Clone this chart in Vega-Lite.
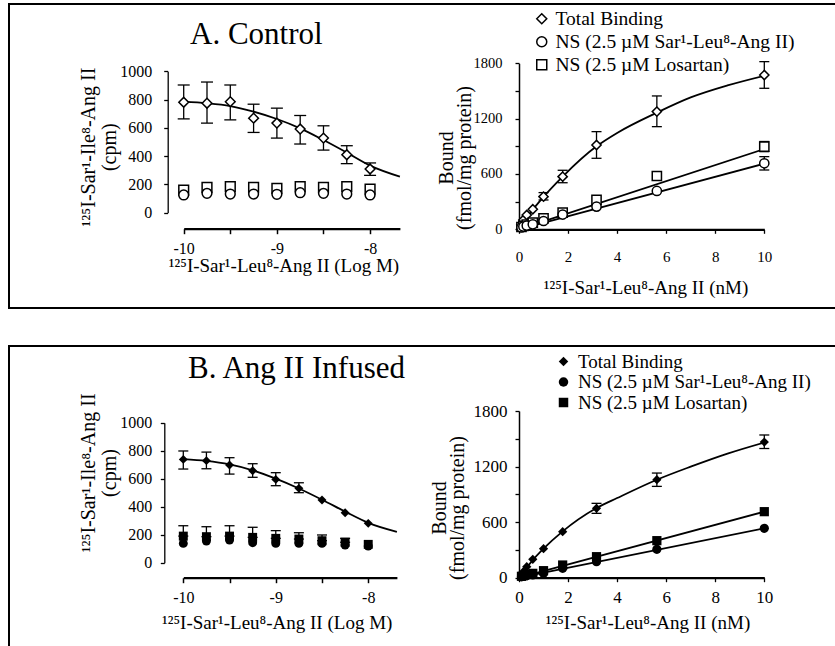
{
  "$schema": "https://vega.github.io/schema/vega-lite/v6.json",
  "padding": {"left": 8, "top": 3, "right": 0, "bottom": 0},
  "background": "white",
  "config": {
    "font": "Liberation Serif",
    "view": {"stroke": null},
    "axis": {"labelColor": "black", "titleColor": "black", "domainColor": "black", "tickColor": "black", "grid": false, "titleFontWeight": "normal", "labelFlush": false, "labelOverlap": false, "labelFont": "Liberation Serif", "titleFont": "Liberation Serif"},
    "legend": {"labelFont": "Liberation Serif", "labelColor": "black"}
  },
  "datasets": {
    "aL": [
      {"x": -10, "s": "T", "v": 781, "lo": 663, "hi": 903},
      {"x": -9.75, "s": "T", "v": 774, "lo": 633, "hi": 924},
      {"x": -9.5, "s": "T", "v": 785, "lo": 656, "hi": 903},
      {"x": -9.25, "s": "T", "v": 668, "lo": 567, "hi": 767},
      {"x": -9, "s": "T", "v": 633, "lo": 527, "hi": 739},
      {"x": -8.75, "s": "T", "v": 591, "lo": 485, "hi": 687},
      {"x": -8.5, "s": "T", "v": 527, "lo": 442, "hi": 614},
      {"x": -8.25, "s": "T", "v": 409, "lo": 346, "hi": 473},
      {"x": -8, "s": "T", "v": 308, "lo": 263, "hi": 351},
      {"x": -10, "s": "L", "v": 159}, {"x": -9.75, "s": "L", "v": 178}, {"x": -9.5, "s": "L", "v": 183},
      {"x": -9.25, "s": "L", "v": 178}, {"x": -9, "s": "L", "v": 171}, {"x": -8.75, "s": "L", "v": 183},
      {"x": -8.5, "s": "L", "v": 178}, {"x": -8.25, "s": "L", "v": 183}, {"x": -8, "s": "L", "v": 166},
      {"x": -10, "s": "S", "v": 124}, {"x": -9.75, "s": "S", "v": 136}, {"x": -9.5, "s": "S", "v": 131},
      {"x": -9.25, "s": "S", "v": 131}, {"x": -9, "s": "S", "v": 129}, {"x": -8.75, "s": "S", "v": 140},
      {"x": -8.5, "s": "S", "v": 136}, {"x": -8.25, "s": "S", "v": 131}, {"x": -8, "s": "S", "v": 124}
    ],
    "aLf": [
      {"x": -10, "s": "T", "v": 785}, {"x": -9.75, "s": "T", "v": 774}, {"x": -9.5, "s": "T", "v": 754},
      {"x": -9.25, "s": "T", "v": 714}, {"x": -9, "s": "T", "v": 662}, {"x": -8.75, "s": "T", "v": 596},
      {"x": -8.5, "s": "T", "v": 513}, {"x": -8.25, "s": "T", "v": 424}, {"x": -8, "s": "T", "v": 332},
      {"x": -7.68, "s": "T", "v": 254}
    ],
    "aR": [
      {"x": 0.1, "s": "T", "v": 50}, {"x": 0.178, "s": "T", "v": 101}, {"x": 0.316, "s": "T", "v": 155},
      {"x": 0.562, "s": "T", "v": 217}, {"x": 1, "s": "T", "v": 354, "lo": 318, "hi": 398},
      {"x": 1.78, "s": "T", "v": 571, "lo": 505, "hi": 640}, {"x": 3.16, "s": "T", "v": 914, "lo": 770, "hi": 1059},
      {"x": 5.62, "s": "T", "v": 1276, "lo": 1113, "hi": 1446}, {"x": 10, "s": "T", "v": 1673, "lo": 1529, "hi": 1818},
      {"x": 0.1, "s": "L", "v": 25}, {"x": 0.178, "s": "L", "v": 38}, {"x": 0.316, "s": "L", "v": 52},
      {"x": 0.562, "s": "L", "v": 72}, {"x": 1, "s": "L", "v": 119}, {"x": 1.78, "s": "L", "v": 181},
      {"x": 3.16, "s": "L", "v": 318}, {"x": 5.62, "s": "L", "v": 578}, {"x": 10, "s": "L", "v": 896, "lo": 842, "hi": 952},
      {"x": 0.1, "s": "S", "v": 20}, {"x": 0.178, "s": "S", "v": 30}, {"x": 0.316, "s": "S", "v": 40},
      {"x": 0.562, "s": "S", "v": 54}, {"x": 1, "s": "S", "v": 90}, {"x": 1.78, "s": "S", "v": 160},
      {"x": 3.16, "s": "S", "v": 246}, {"x": 5.62, "s": "S", "v": 416}, {"x": 10, "s": "S", "v": 716, "lo": 643, "hi": 788}
    ],
    "aRf": [
      {"x": 0, "s": "T", "v": 0}, {"x": 0.1, "s": "T", "v": 40}, {"x": 0.316, "s": "T", "v": 120},
      {"x": 0.562, "s": "T", "v": 212}, {"x": 1, "s": "T", "v": 352}, {"x": 1.78, "s": "T", "v": 572},
      {"x": 3.16, "s": "T", "v": 900}, {"x": 4, "s": "T", "v": 1045}, {"x": 5.62, "s": "T", "v": 1265},
      {"x": 7, "s": "T", "v": 1430}, {"x": 8.5, "s": "T", "v": 1560}, {"x": 10, "s": "T", "v": 1665},
      {"x": 0, "s": "L", "v": 0}, {"x": 10, "s": "L", "v": 870},
      {"x": 0, "s": "S", "v": 0}, {"x": 10, "s": "S", "v": 712}
    ],
    "bL": [
      {"x": -10, "s": "T", "v": 738, "lo": 669, "hi": 798},
      {"x": -9.75, "s": "T", "v": 729, "lo": 671, "hi": 790},
      {"x": -9.5, "s": "T", "v": 698, "lo": 633, "hi": 750},
      {"x": -9.25, "s": "T", "v": 657, "lo": 610, "hi": 707},
      {"x": -9, "s": "T", "v": 595, "lo": 550, "hi": 643},
      {"x": -8.75, "s": "T", "v": 531, "lo": 500, "hi": 571},
      {"x": -8.5, "s": "T", "v": 448},
      {"x": -8.25, "s": "T", "v": 357},
      {"x": -8, "s": "T", "v": 281},
      {"x": -10, "s": "L", "v": 190, "lo": 190, "hi": 264}, {"x": -9.75, "s": "L", "v": 186, "lo": 186, "hi": 257},
      {"x": -9.5, "s": "L", "v": 190, "lo": 190, "hi": 264}, {"x": -9.25, "s": "L", "v": 181, "lo": 181, "hi": 253},
      {"x": -9, "s": "L", "v": 174, "lo": 174, "hi": 229}, {"x": -8.75, "s": "L", "v": 169, "lo": 169, "hi": 214},
      {"x": -8.5, "s": "L", "v": 157, "lo": 157, "hi": 198}, {"x": -8.25, "s": "L", "v": 146, "lo": 146, "hi": 174},
      {"x": -8, "s": "L", "v": 131},
      {"x": -10, "s": "S", "v": 138}, {"x": -9.75, "s": "S", "v": 155}, {"x": -9.5, "s": "S", "v": 162},
      {"x": -9.25, "s": "S", "v": 143}, {"x": -9, "s": "S", "v": 138}, {"x": -8.75, "s": "S", "v": 138},
      {"x": -8.5, "s": "S", "v": 138}, {"x": -8.25, "s": "S", "v": 126}, {"x": -8, "s": "S", "v": 119}
    ],
    "bLf": [
      {"x": -10, "s": "T", "v": 740}, {"x": -9.75, "s": "T", "v": 727}, {"x": -9.5, "s": "T", "v": 702},
      {"x": -9.25, "s": "T", "v": 660}, {"x": -9, "s": "T", "v": 600}, {"x": -8.75, "s": "T", "v": 530},
      {"x": -8.5, "s": "T", "v": 450}, {"x": -8.25, "s": "T", "v": 365}, {"x": -8, "s": "T", "v": 285},
      {"x": -7.69, "s": "T", "v": 221}
    ],
    "bR": [
      {"x": 0.1, "s": "T", "v": 29}, {"x": 0.178, "s": "T", "v": 65}, {"x": 0.316, "s": "T", "v": 119},
      {"x": 0.562, "s": "T", "v": 198}, {"x": 1, "s": "T", "v": 313}, {"x": 1.78, "s": "T", "v": 497},
      {"x": 3.16, "s": "T", "v": 749, "lo": 695, "hi": 803}, {"x": 5.62, "s": "T", "v": 1058, "lo": 986, "hi": 1130},
      {"x": 10, "s": "T", "v": 1465, "lo": 1395, "hi": 1541},
      {"x": 0.1, "s": "L", "v": 15}, {"x": 0.178, "s": "L", "v": 22}, {"x": 0.316, "s": "L", "v": 35},
      {"x": 0.562, "s": "L", "v": 47}, {"x": 1, "s": "L", "v": 76}, {"x": 1.78, "s": "L", "v": 137},
      {"x": 3.16, "s": "L", "v": 227}, {"x": 5.62, "s": "L", "v": 400}, {"x": 10, "s": "L", "v": 713},
      {"x": 0.1, "s": "S", "v": 10}, {"x": 0.178, "s": "S", "v": 15}, {"x": 0.316, "s": "S", "v": 22},
      {"x": 0.562, "s": "S", "v": 29}, {"x": 1, "s": "S", "v": 47}, {"x": 1.78, "s": "S", "v": 101},
      {"x": 3.16, "s": "S", "v": 173}, {"x": 5.62, "s": "S", "v": 306}, {"x": 10, "s": "S", "v": 533}
    ],
    "bRf": [
      {"x": 0, "s": "T", "v": 0}, {"x": 0.1, "s": "T", "v": 35}, {"x": 0.316, "s": "T", "v": 110},
      {"x": 0.562, "s": "T", "v": 190}, {"x": 1, "s": "T", "v": 313}, {"x": 1.78, "s": "T", "v": 500},
      {"x": 3.16, "s": "T", "v": 752}, {"x": 4, "s": "T", "v": 860}, {"x": 5.62, "s": "T", "v": 1058},
      {"x": 7, "s": "T", "v": 1199}, {"x": 8.5, "s": "T", "v": 1340}, {"x": 10, "s": "T", "v": 1460},
      {"x": 0, "s": "L", "v": 0}, {"x": 10, "s": "L", "v": 713},
      {"x": 0, "s": "S", "v": 0}, {"x": 10, "s": "S", "v": 533}
    ]
  },
  "vconcat": [
    {
      "width": 835,
      "height": 304,
      "view": {"stroke": "black", "strokeWidth": 2},
      "title": {"text": "A.  Control", "fontSize": 31, "fontWeight": "normal", "font": "Liberation Serif", "anchor": "start", "frame": "group", "dx": 181, "dy": 71, "offset": 0, "baseline": "alphabetic", "color": "black"},
      "layer": [
        {
          "encoding": {
            "x": {"field": "x", "type": "quantitative", "scale": {"domain": [-10, -7.68], "range": [174.7, 390.9], "nice": false, "zero": false},
                  "axis": {"orient": "bottom", "offset": -79.3, "values": [-10, -9.5, -9, -8.5, -8], "labelExpr": "datum.value % 1 == 0 ? '' + datum.value : ''", "title": "¹²⁵I-Sar¹-Leu⁸-Ang II (Log M)", "titleFontSize": 19, "titleBaseline": "alphabetic", "titleY": 43, "titleX": 274.5, "labelFontSize": 16, "labelPadding": 6.5, "tickSize": 5, "tickWidth": 1.5, "domainWidth": 2.3}},
            "y": {"field": "v", "type": "quantitative", "scale": {"domain": [0, 1000], "range": [208.5, 67.3], "nice": false, "zero": false},
                  "axis": {"orient": "left", "offset": -158.7, "values": [0, 200, 400, 600, 800, 1000], "format": "d", "title": ["¹²⁵I-Sar¹-Ile⁸-Ang II", "(cpm)"], "titleFontSize": 20, "titleAngle": -90, "titleBaseline": "alphabetic", "titleAlign": "center", "titleX": -73.7, "titleY": 142.7, "titleLineHeight": 21, "labelFontSize": 16, "labelPadding": 12, "tickSize": 4, "tickWidth": 1.3, "domainWidth": 1.3}}
          },
          "layer": [
            {"data": {"name": "aLf"}, "mark": {"type": "line", "color": "black", "strokeWidth": 1.8, "interpolate": "monotone"},
             "encoding": {"detail": {"field": "s"}}},
            {"data": {"name": "aL"}, "transform": [{"filter": "isValid(datum.hi)"}], "mark": {"type": "rule", "color": "black", "strokeWidth": 1.3},
             "encoding": {"y": {"field": "lo", "type": "quantitative", "scale": {"domain": [0, 1000], "range": [208.5, 67.3], "nice": false, "zero": false},
                  "axis": {"orient": "left", "offset": -158.7, "values": [0, 200, 400, 600, 800, 1000], "format": "d", "title": ["¹²⁵I-Sar¹-Ile⁸-Ang II", "(cpm)"], "titleFontSize": 20, "titleAngle": -90, "titleBaseline": "alphabetic", "titleAlign": "center", "titleX": -73.7, "titleY": 142.7, "titleLineHeight": 21, "labelFontSize": 16, "labelPadding": 12, "tickSize": 4, "tickWidth": 1.3, "domainWidth": 1.3}},
                          "y2": {"field": "hi"}}},
            {"data": {"name": "aL"}, "transform": [{"filter": "isValid(datum.hi)"}], "mark": {"type": "point", "shape": "stroke", "size": 144, "color": "black", "strokeWidth": 1.3, "opacity": 1},
             "encoding": {"y": {"field": "hi", "type": "quantitative", "scale": {"domain": [0, 1000], "range": [208.5, 67.3], "nice": false, "zero": false},
                  "axis": {"orient": "left", "offset": -158.7, "values": [0, 200, 400, 600, 800, 1000], "format": "d", "title": ["¹²⁵I-Sar¹-Ile⁸-Ang II", "(cpm)"], "titleFontSize": 20, "titleAngle": -90, "titleBaseline": "alphabetic", "titleAlign": "center", "titleX": -73.7, "titleY": 142.7, "titleLineHeight": 21, "labelFontSize": 16, "labelPadding": 12, "tickSize": 4, "tickWidth": 1.3, "domainWidth": 1.3}}}},
            {"data": {"name": "aL"}, "transform": [{"filter": "isValid(datum.lo)"}], "mark": {"type": "point", "shape": "stroke", "size": 144, "color": "black", "strokeWidth": 1.3, "opacity": 1},
             "encoding": {"y": {"field": "lo", "type": "quantitative", "scale": {"domain": [0, 1000], "range": [208.5, 67.3], "nice": false, "zero": false},
                  "axis": {"orient": "left", "offset": -158.7, "values": [0, 200, 400, 600, 800, 1000], "format": "d", "title": ["¹²⁵I-Sar¹-Ile⁸-Ang II", "(cpm)"], "titleFontSize": 20, "titleAngle": -90, "titleBaseline": "alphabetic", "titleAlign": "center", "titleX": -73.7, "titleY": 142.7, "titleLineHeight": 21, "labelFontSize": 16, "labelPadding": 12, "tickSize": 4, "tickWidth": 1.3, "domainWidth": 1.3}}}},
            {"data": {"name": "aL"}, "mark": {"type": "point", "filled": false, "color": "black", "fill": "white", "strokeWidth": 1.5, "opacity": 1, "size": 95},
             "encoding": {"shape": {"field": "s", "type": "nominal", "scale": {"domain": ["T", "S", "L"], "range": ["diamond", "circle", "square"]},
                                    "legend": {"orient": "none", "legendX": 523, "legendY": 5, "title": null, "labelFontSize": 19.5, "symbolSize": 100, "symbolStrokeWidth": 1.5, "rowPadding": 2, "padding": 0, "labelOffset": 4, "labelLimit": 400,
                                               "labelExpr": "datum.label == 'T' ? 'Total Binding' : datum.label == 'S' ? 'NS (2.5 µM Sar¹-Leu⁸-Ang II)' : 'NS (2.5 µM Losartan)'"}}}}
          ]
        },
        {
          "encoding": {
            "x": {"field": "x", "type": "quantitative", "scale": {"domain": [0, 10], "range": [510, 755.3], "nice": false, "zero": false},
                  "axis": {"orient": "bottom", "offset": -78.7, "values": [0, 2, 4, 6, 8, 10], "title": "¹²⁵I-Sar¹-Leu⁸-Ang II (nM)", "titleFontSize": 19, "titleBaseline": "alphabetic", "titleY": 63.7, "titleX": 636.5, "labelFontSize": 15, "labelPadding": 16.5, "tickSize": 4, "tickWidth": 1.3, "domainWidth": 2.3}},
            "y": {"field": "v", "type": "quantitative", "scale": {"domain": [0, 1800], "range": [225.3, 59.3], "nice": false, "zero": false},
                  "axis": {"orient": "left", "offset": -510, "values": [0, 300, 600, 900, 1200, 1500, 1800], "format": "d", "labelExpr": "datum.value % 600 == 0 ? datum.label : ''", "title": ["Bound", "(fmol/mg protein)"], "titleFontSize": 20, "titleAngle": -90, "titleBaseline": "alphabetic", "titleAlign": "center", "titleX": -67, "titleY": 153.5, "titleLineHeight": 18, "labelFontSize": 14.5, "labelPadding": 13, "tickSize": 4, "tickWidth": 1.3, "domainWidth": 1.5}}
          },
          "layer": [
            {"data": {"name": "aRf"}, "mark": {"type": "line", "color": "black", "strokeWidth": 1.8, "interpolate": "monotone"},
             "encoding": {"detail": {"field": "s"}}},
            {"data": {"name": "aR"}, "transform": [{"filter": "isValid(datum.hi)"}], "mark": {"type": "rule", "color": "black", "strokeWidth": 1.3},
             "encoding": {"y": {"field": "lo", "type": "quantitative", "scale": {"domain": [0, 1800], "range": [225.3, 59.3], "nice": false, "zero": false},
                  "axis": {"orient": "left", "offset": -510, "values": [0, 300, 600, 900, 1200, 1500, 1800], "format": "d", "labelExpr": "datum.value % 600 == 0 ? datum.label : ''", "title": ["Bound", "(fmol/mg protein)"], "titleFontSize": 20, "titleAngle": -90, "titleBaseline": "alphabetic", "titleAlign": "center", "titleX": -67, "titleY": 153.5, "titleLineHeight": 18, "labelFontSize": 14.5, "labelPadding": 13, "tickSize": 4, "tickWidth": 1.3, "domainWidth": 1.5}},
                          "y2": {"field": "hi"}}},
            {"data": {"name": "aR"}, "transform": [{"filter": "isValid(datum.hi)"}], "mark": {"type": "point", "shape": "stroke", "size": 100, "color": "black", "strokeWidth": 1.3, "opacity": 1},
             "encoding": {"y": {"field": "hi", "type": "quantitative", "scale": {"domain": [0, 1800], "range": [225.3, 59.3], "nice": false, "zero": false},
                  "axis": {"orient": "left", "offset": -510, "values": [0, 300, 600, 900, 1200, 1500, 1800], "format": "d", "labelExpr": "datum.value % 600 == 0 ? datum.label : ''", "title": ["Bound", "(fmol/mg protein)"], "titleFontSize": 20, "titleAngle": -90, "titleBaseline": "alphabetic", "titleAlign": "center", "titleX": -67, "titleY": 153.5, "titleLineHeight": 18, "labelFontSize": 14.5, "labelPadding": 13, "tickSize": 4, "tickWidth": 1.3, "domainWidth": 1.5}}}},
            {"data": {"name": "aR"}, "transform": [{"filter": "isValid(datum.lo)"}], "mark": {"type": "point", "shape": "stroke", "size": 100, "color": "black", "strokeWidth": 1.3, "opacity": 1},
             "encoding": {"y": {"field": "lo", "type": "quantitative", "scale": {"domain": [0, 1800], "range": [225.3, 59.3], "nice": false, "zero": false},
                  "axis": {"orient": "left", "offset": -510, "values": [0, 300, 600, 900, 1200, 1500, 1800], "format": "d", "labelExpr": "datum.value % 600 == 0 ? datum.label : ''", "title": ["Bound", "(fmol/mg protein)"], "titleFontSize": 20, "titleAngle": -90, "titleBaseline": "alphabetic", "titleAlign": "center", "titleX": -67, "titleY": 153.5, "titleLineHeight": 18, "labelFontSize": 14.5, "labelPadding": 13, "tickSize": 4, "tickWidth": 1.3, "domainWidth": 1.5}}}},
            {"data": {"name": "aR"}, "mark": {"type": "point", "filled": false, "color": "black", "fill": "white", "strokeWidth": 1.5, "opacity": 1, "size": 85},
             "encoding": {"shape": {"field": "s", "type": "nominal", "scale": {"domain": ["T", "S", "L"], "range": ["diamond", "circle", "square"]},
                                    "legend": {"orient": "none", "legendX": 523, "legendY": 5, "title": null, "labelFontSize": 19.5, "symbolSize": 100, "symbolStrokeWidth": 1.5, "rowPadding": 2, "padding": 0, "labelOffset": 4, "labelLimit": 400,
                                               "labelExpr": "datum.label == 'T' ? 'Total Binding' : datum.label == 'S' ? 'NS (2.5 µM Sar¹-Leu⁸-Ang II)' : 'NS (2.5 µM Losartan)'"}}}}
          ]
        }
      ],
      "resolve": {"scale": {"x": "independent", "y": "independent"}, "axis": {"x": "independent", "y": "independent"}}
    },
    {
      "width": 835,
      "height": 310,
      "view": {"stroke": "black", "strokeWidth": 2},
      "title": {"text": "B.  Ang II Infused", "fontSize": 31, "fontWeight": "normal", "font": "Liberation Serif", "anchor": "start", "frame": "group", "dx": 179, "dy": 63, "offset": 0, "baseline": "alphabetic", "color": "black"},
      "layer": [
        {
          "encoding": {
            "x": {"field": "x", "type": "quantitative", "scale": {"domain": [-10, -7.69], "range": [174.3, 387.9], "nice": false, "zero": false},
                  "axis": {"orient": "bottom", "offset": -78.3, "values": [-10, -9.5, -9, -8.5, -8], "labelExpr": "datum.value % 1 == 0 ? '' + datum.value : ''", "title": "¹²⁵I-Sar¹-Leu⁸-Ang II (Log M)", "titleFontSize": 19, "titleBaseline": "alphabetic", "titleY": 50.6, "titleX": 267.7, "labelFontSize": 16, "labelPadding": 6.9, "tickSize": 5, "tickWidth": 1.5, "domainWidth": 2.3}},
            "y": {"field": "v", "type": "quantitative", "scale": {"domain": [0, 1000], "range": [216.7, 76.7], "nice": false, "zero": false},
                  "axis": {"orient": "left", "offset": -155.3, "values": [0, 200, 400, 600, 800, 1000], "format": "d", "title": ["¹²⁵I-Sar¹-Ile⁸-Ang II", "(cpm)"], "titleFontSize": 20, "titleAngle": -90, "titleBaseline": "alphabetic", "titleAlign": "center", "titleX": -70.3, "titleY": 126.5, "titleLineHeight": 21, "labelFontSize": 16, "labelPadding": 8.6, "tickSize": 4, "tickWidth": 1.3, "domainWidth": 1.3}}
          },
          "layer": [
            {"data": {"name": "bLf"}, "mark": {"type": "line", "color": "black", "strokeWidth": 1.8, "interpolate": "monotone"},
             "encoding": {"detail": {"field": "s"}}},
            {"data": {"name": "bL"}, "transform": [{"filter": "isValid(datum.hi)"}], "mark": {"type": "rule", "color": "black", "strokeWidth": 1.3},
             "encoding": {"y": {"field": "lo", "type": "quantitative", "scale": {"domain": [0, 1000], "range": [216.7, 76.7], "nice": false, "zero": false},
                  "axis": {"orient": "left", "offset": -155.3, "values": [0, 200, 400, 600, 800, 1000], "format": "d", "title": ["¹²⁵I-Sar¹-Ile⁸-Ang II", "(cpm)"], "titleFontSize": 20, "titleAngle": -90, "titleBaseline": "alphabetic", "titleAlign": "center", "titleX": -70.3, "titleY": 126.5, "titleLineHeight": 21, "labelFontSize": 16, "labelPadding": 8.6, "tickSize": 4, "tickWidth": 1.3, "domainWidth": 1.3}},
                          "y2": {"field": "hi"}}},
            {"data": {"name": "bL"}, "transform": [{"filter": "isValid(datum.hi)"}], "mark": {"type": "point", "shape": "stroke", "size": 100, "color": "black", "strokeWidth": 1.3, "opacity": 1},
             "encoding": {"y": {"field": "hi", "type": "quantitative", "scale": {"domain": [0, 1000], "range": [216.7, 76.7], "nice": false, "zero": false},
                  "axis": {"orient": "left", "offset": -155.3, "values": [0, 200, 400, 600, 800, 1000], "format": "d", "title": ["¹²⁵I-Sar¹-Ile⁸-Ang II", "(cpm)"], "titleFontSize": 20, "titleAngle": -90, "titleBaseline": "alphabetic", "titleAlign": "center", "titleX": -70.3, "titleY": 126.5, "titleLineHeight": 21, "labelFontSize": 16, "labelPadding": 8.6, "tickSize": 4, "tickWidth": 1.3, "domainWidth": 1.3}}}},
            {"data": {"name": "bL"}, "transform": [{"filter": "isValid(datum.lo)"}], "mark": {"type": "point", "shape": "stroke", "size": 100, "color": "black", "strokeWidth": 1.3, "opacity": 1},
             "encoding": {"y": {"field": "lo", "type": "quantitative", "scale": {"domain": [0, 1000], "range": [216.7, 76.7], "nice": false, "zero": false},
                  "axis": {"orient": "left", "offset": -155.3, "values": [0, 200, 400, 600, 800, 1000], "format": "d", "title": ["¹²⁵I-Sar¹-Ile⁸-Ang II", "(cpm)"], "titleFontSize": 20, "titleAngle": -90, "titleBaseline": "alphabetic", "titleAlign": "center", "titleX": -70.3, "titleY": 126.5, "titleLineHeight": 21, "labelFontSize": 16, "labelPadding": 8.6, "tickSize": 4, "tickWidth": 1.3, "domainWidth": 1.3}}}},
            {"data": {"name": "bL"}, "mark": {"type": "point", "filled": true, "color": "black", "strokeWidth": 1, "opacity": 1, "size": 80},
             "encoding": {"shape": {"field": "s", "type": "nominal", "scale": {"domain": ["T", "S", "L"], "range": ["diamond", "circle", "square"]},
                                    "legend": {"orient": "none", "legendX": 545, "legendY": 6, "title": null, "labelFontSize": 19, "symbolSize": 90, "symbolStrokeColor": "black", "symbolFillColor": "black", "symbolStrokeWidth": 1, "rowPadding": 0.5, "padding": 0, "labelOffset": 5, "labelLimit": 400,
                                               "labelExpr": "datum.label == 'T' ? 'Total Binding' : datum.label == 'S' ? 'NS (2.5 µM Sar¹-Leu⁸-Ang II)' : 'NS (2.5 µM Losartan)'"}}}}
          ]
        },
        {
          "encoding": {
            "x": {"field": "x", "type": "quantitative", "scale": {"domain": [0, 10], "range": [510, 755.3], "nice": false, "zero": false},
                  "axis": {"orient": "bottom", "offset": -78.3, "values": [0, 2, 4, 6, 8, 10], "title": "¹²⁵I-Sar¹-Leu⁸-Ang II (nM)", "titleFontSize": 19, "titleBaseline": "alphabetic", "titleY": 50.6, "titleX": 638.5, "labelFontSize": 17, "labelPadding": 8.2, "tickSize": 4, "tickWidth": 1.3, "domainWidth": 2.3}},
            "y": {"field": "v", "type": "quantitative", "scale": {"domain": [0, 1800], "range": [231.7, 65], "nice": false, "zero": false},
                  "axis": {"orient": "left", "offset": -510, "values": [0, 300, 600, 900, 1200, 1500, 1800], "format": "d", "labelExpr": "datum.value % 600 == 0 ? datum.label : ''", "title": ["Bound", "(fmol/mg protein)"], "titleFontSize": 20, "titleAngle": -90, "titleBaseline": "alphabetic", "titleAlign": "center", "titleX": -74, "titleY": 161.5, "titleLineHeight": 18.3, "labelFontSize": 17, "labelPadding": 8, "tickSize": 4, "tickWidth": 1.3, "domainWidth": 1.5}}
          },
          "layer": [
            {"data": {"name": "bRf"}, "mark": {"type": "line", "color": "black", "strokeWidth": 1.8, "interpolate": "monotone"},
             "encoding": {"detail": {"field": "s"}}},
            {"data": {"name": "bR"}, "transform": [{"filter": "isValid(datum.hi)"}], "mark": {"type": "rule", "color": "black", "strokeWidth": 1.3},
             "encoding": {"y": {"field": "lo", "type": "quantitative", "scale": {"domain": [0, 1800], "range": [231.7, 65], "nice": false, "zero": false},
                  "axis": {"orient": "left", "offset": -510, "values": [0, 300, 600, 900, 1200, 1500, 1800], "format": "d", "labelExpr": "datum.value % 600 == 0 ? datum.label : ''", "title": ["Bound", "(fmol/mg protein)"], "titleFontSize": 20, "titleAngle": -90, "titleBaseline": "alphabetic", "titleAlign": "center", "titleX": -74, "titleY": 161.5, "titleLineHeight": 18.3, "labelFontSize": 17, "labelPadding": 8, "tickSize": 4, "tickWidth": 1.3, "domainWidth": 1.5}},
                          "y2": {"field": "hi"}}},
            {"data": {"name": "bR"}, "transform": [{"filter": "isValid(datum.hi)"}], "mark": {"type": "point", "shape": "stroke", "size": 100, "color": "black", "strokeWidth": 1.3, "opacity": 1},
             "encoding": {"y": {"field": "hi", "type": "quantitative", "scale": {"domain": [0, 1800], "range": [231.7, 65], "nice": false, "zero": false},
                  "axis": {"orient": "left", "offset": -510, "values": [0, 300, 600, 900, 1200, 1500, 1800], "format": "d", "labelExpr": "datum.value % 600 == 0 ? datum.label : ''", "title": ["Bound", "(fmol/mg protein)"], "titleFontSize": 20, "titleAngle": -90, "titleBaseline": "alphabetic", "titleAlign": "center", "titleX": -74, "titleY": 161.5, "titleLineHeight": 18.3, "labelFontSize": 17, "labelPadding": 8, "tickSize": 4, "tickWidth": 1.3, "domainWidth": 1.5}}}},
            {"data": {"name": "bR"}, "transform": [{"filter": "isValid(datum.lo)"}], "mark": {"type": "point", "shape": "stroke", "size": 100, "color": "black", "strokeWidth": 1.3, "opacity": 1},
             "encoding": {"y": {"field": "lo", "type": "quantitative", "scale": {"domain": [0, 1800], "range": [231.7, 65], "nice": false, "zero": false},
                  "axis": {"orient": "left", "offset": -510, "values": [0, 300, 600, 900, 1200, 1500, 1800], "format": "d", "labelExpr": "datum.value % 600 == 0 ? datum.label : ''", "title": ["Bound", "(fmol/mg protein)"], "titleFontSize": 20, "titleAngle": -90, "titleBaseline": "alphabetic", "titleAlign": "center", "titleX": -74, "titleY": 161.5, "titleLineHeight": 18.3, "labelFontSize": 17, "labelPadding": 8, "tickSize": 4, "tickWidth": 1.3, "domainWidth": 1.5}}}},
            {"data": {"name": "bR"}, "mark": {"type": "point", "filled": true, "color": "black", "strokeWidth": 1, "opacity": 1, "size": 85},
             "encoding": {"shape": {"field": "s", "type": "nominal", "scale": {"domain": ["T", "S", "L"], "range": ["diamond", "circle", "square"]},
                                    "legend": {"orient": "none", "legendX": 545, "legendY": 6, "title": null, "labelFontSize": 19, "symbolSize": 90, "symbolStrokeColor": "black", "symbolFillColor": "black", "symbolStrokeWidth": 1, "rowPadding": 0.5, "padding": 0, "labelOffset": 5, "labelLimit": 400,
                                               "labelExpr": "datum.label == 'T' ? 'Total Binding' : datum.label == 'S' ? 'NS (2.5 µM Sar¹-Leu⁸-Ang II)' : 'NS (2.5 µM Losartan)'"}}}}
          ]
        }
      ],
      "resolve": {"scale": {"x": "independent", "y": "independent"}, "axis": {"x": "independent", "y": "independent"}}
    }
  ],
  "spacing": 38,
  "bounds": "flush",
  "resolve": {"scale": {"x": "independent", "y": "independent", "shape": "independent"}, "legend": {"shape": "independent"}, "axis": {"x": "independent", "y": "independent"}}
}
